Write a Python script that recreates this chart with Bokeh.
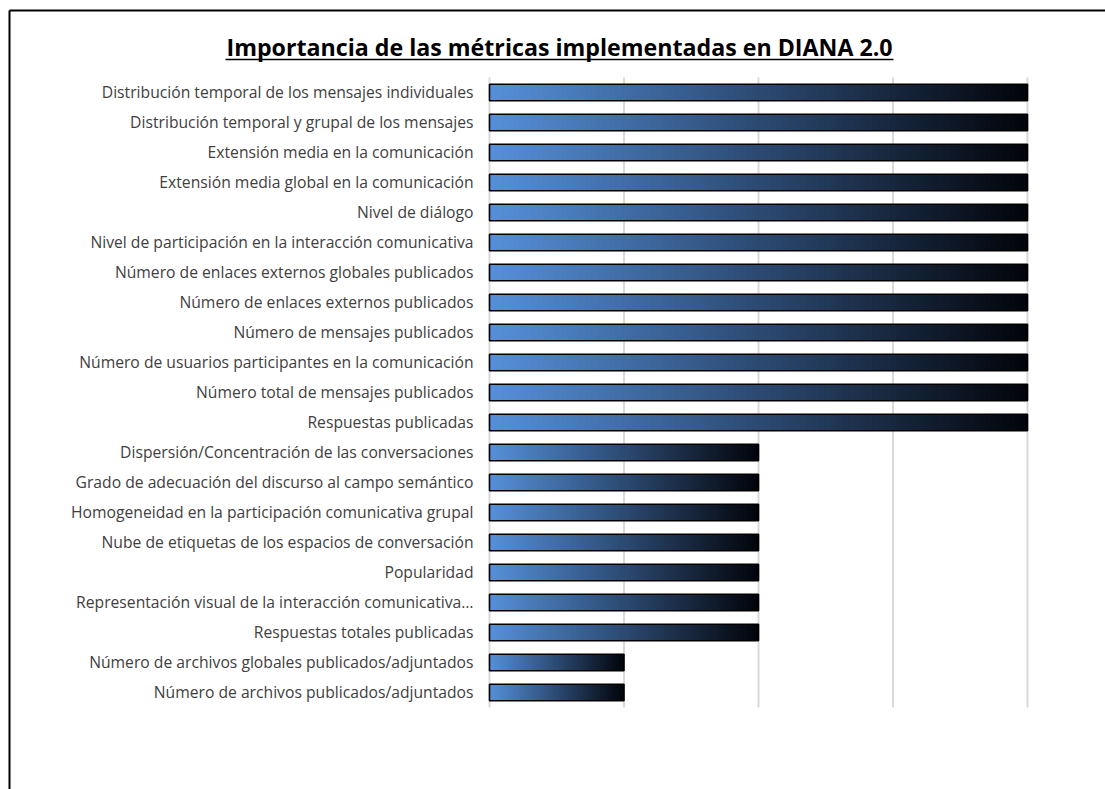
from bokeh.plotting import figure
from bokeh.models import Range1d, ColumnDataSource
from bokeh.core.properties import value
from bokeh.embed import file_html
from bokeh.resources import INLINE

# Metrics, in display order (top to bottom), and their importance scores
metricas = [
    "Distribución temporal de los mensajes individuales",
    "Distribución temporal y grupal de los mensajes",
    "Extensión media en la comunicación",
    "Extensión media global en la comunicación",
    "Nivel de diálogo",
    "Nivel de participación en la interacción comunicativa",
    "Número de enlaces externos globales publicados",
    "Número de enlaces externos publicados",
    "Número de mensajes publicados",
    "Número de usuarios participantes en la comunicación",
    "Número total de mensajes publicados",
    "Respuestas publicadas",
    "Dispersión/Concentración de las conversaciones",
    "Grado de adecuación del discurso al campo semántico",
    "Homogeneidad en la participación comunicativa grupal",
    "Nube de etiquetas de los espacios de conversación",
    "Popularidad",
    "Representación visual de la interacción comunicativa…",
    "Respuestas totales publicadas",
    "Número de archivos globales publicados/adjuntados",
    "Número de archivos publicados/adjuntados",
]
importancia = [4, 4, 4, 4, 4, 4, 4, 4, 4, 4, 4, 4, 2, 2, 2, 2, 2, 2, 2, 1, 1]
ticks_x = [0, 1, 2, 3, 4]

TITULO = "Importancia de las métricas implementadas en DIANA 2.0"
FONT = "Open Sans"

W, H = 1105, 789
# plot area: value 0 at 489 px, value 4 at 1027 px; rows 30 px apart from 92 px
X0_PX, X4_PX = 489, 1027
ROW0_PX, ROW_PX = 92, 30
SX = (X4_PX - X0_PX) / 4.0


def dx(px):
    return (px - X0_PX) / SX


def dy(py):
    return (py - ROW0_PX) / ROW_PX


p = figure(
    width=W, height=H,
    x_range=Range1d(dx(0), dx(W)),
    y_range=Range1d(dy(H), dy(0)),
    x_axis_type=None, y_axis_type=None,
    output_backend="svg", toolbar_location=None,
    min_border=0,
)
p.outline_line_color = None
p.background_fill_color = "white"
p.border_fill_color = "white"
p.xgrid.visible = False
p.ygrid.visible = False

filas = list(range(len(metricas)))

# vertical gridlines over the rows
p.segment(x0=ticks_x, x1=ticks_x, y0=-0.5, y1=len(metricas) - 0.5,
          line_color="#d9d9d9", line_width=2)

# gradient bars: each bar is split into thin overlapping slices, blue -> black
N = 90
c0 = (86, 144, 218)
c1 = (2, 4, 10)
ys, lefts, rights, cols = [], [], [], []
for fila, v in zip(filas, importancia):
    for i in range(N):
        t = (i + 0.5) / N
        rgb = [int(round(a + (b - a) * t)) for a, b in zip(c0, c1)]
        ys.append(fila)
        lefts.append(v * i / N)
        rights.append(min(v, v * (i + 1) / N + 0.012))
        cols.append("#%02x%02x%02x" % tuple(rgb))
src = ColumnDataSource(dict(y=ys, left=lefts, right=rights, color=cols))
p.hbar(y="y", left="left", right="right", height=0.55, fill_color="color",
       line_color=None, source=src)
p.hbar(y=filas, left=0, right=importancia, height=0.55, fill_color=None,
       line_color="#000000", line_width=1.6)

# category labels
p.text(x=0, y=filas, text=metricas, x_offset=-16, y_offset=-1, text_align="right",
       text_baseline="middle", text_font=value(FONT), text_font_size="15.7px",
       text_color="#404040")

# title, underlined
p.text(x=[dx(559)], y=[dy(46)], text=[TITULO], text_align="center",
       text_baseline="middle", text_font=value(FONT), text_font_size="23.2px",
       text_font_style="bold", text_color="#000000")
p.segment(x0=[dx(225)], x1=[dx(893)], y0=[dy(59)], y1=[dy(59)],
          line_color="#000000", line_width=1.5)

# chart frame (left and top edges; the rest lies past the page edge)
p.segment(x0=[dx(9), dx(9)], x1=[dx(9), dx(W + 20)],
          y0=[dy(10), dy(10)], y1=[dy(H + 20), dy(10)],
          line_color="#000000", line_width=2)

open("out.html", "w").write(file_html(p, INLINE))
